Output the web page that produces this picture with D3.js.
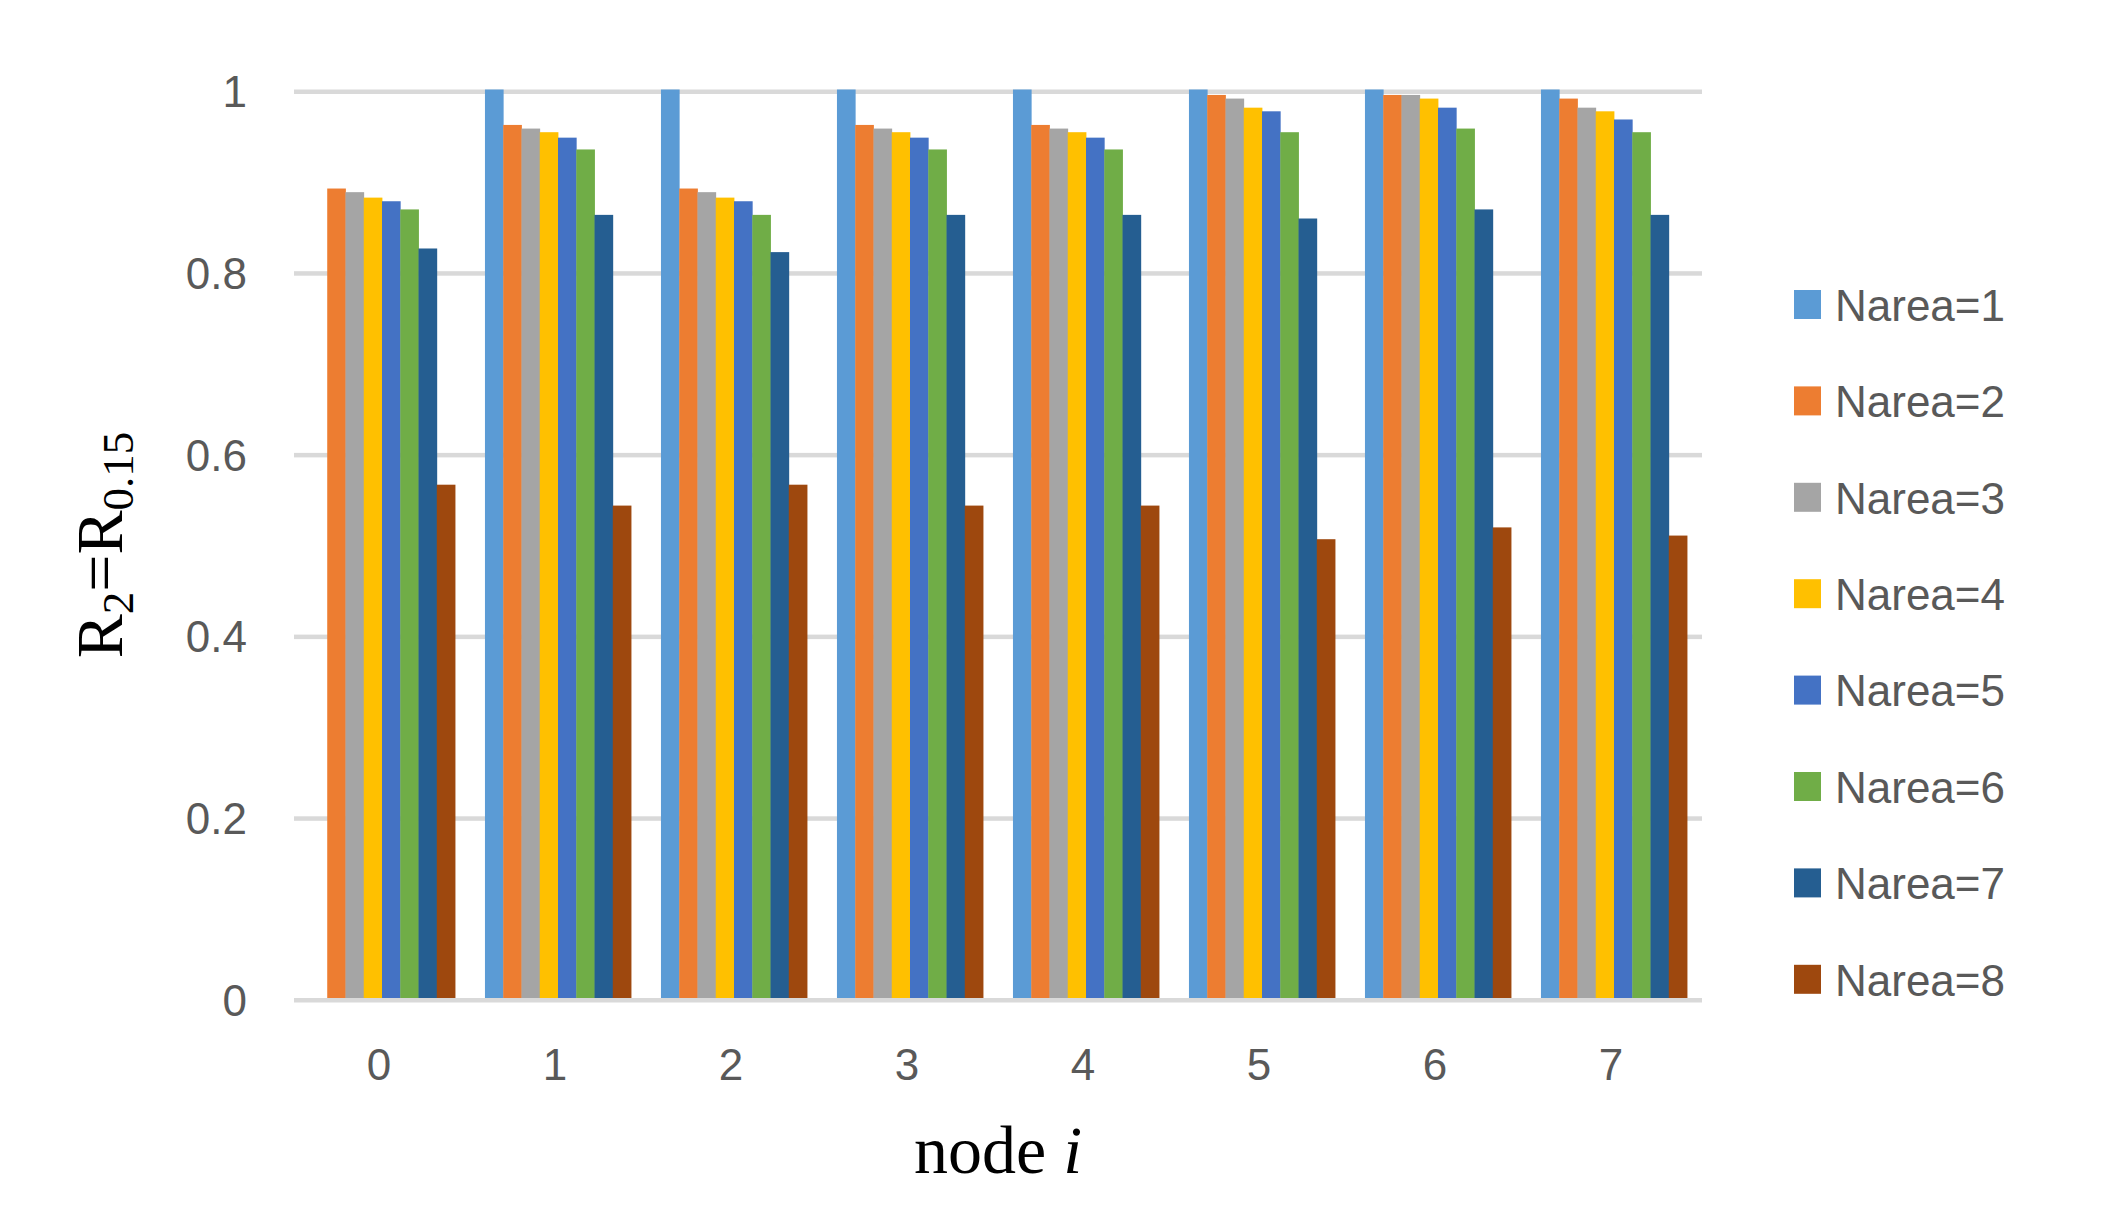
<!DOCTYPE html>
<html>
<head>
<meta charset="utf-8">
<script src="https://cdn.jsdelivr.net/npm/d3@7"></script>
<style>
	body { margin: 0 ; background: #fff ; }
	text { font-family: "Liberation Sans", Arial, sans-serif ; }
</style>
</head>
<body>
<div id="chart"></div>
<script>
var nodes = ['0','1','2','3','4','5','6','7'] ;
var seriesNames = ['Narea=1','Narea=2','Narea=3','Narea=4','Narea=5','Narea=6','Narea=7','Narea=8'] ;
var yTicks = [0,0.2,0.4,0.6,0.8,1] ;
// one array per series, indexed by node
var narea1 = [0,1,1,1,1,1,1,1] ;
var narea2 = [0.891,0.961,0.891,0.961,0.961,0.994,0.994,0.990] ;
var narea3 = [0.887,0.957,0.887,0.957,0.957,0.990,0.994,0.980] ;
var narea4 = [0.881,0.953,0.881,0.953,0.953,0.980,0.990,0.976] ;
var narea5 = [0.877,0.947,0.877,0.947,0.947,0.976,0.980,0.967] ;
var narea6 = [0.868,0.934,0.862,0.934,0.934,0.953,0.957,0.953] ;
var narea7 = [0.825,0.862,0.821,0.862,0.862,0.858,0.868,0.862] ;
var narea8 = [0.565,0.542,0.565,0.542,0.542,0.505,0.518,0.509] ;
var series = [narea1,narea2,narea3,narea4,narea5,narea6,narea7,narea8] ;
var colors = ['#5B9BD5','#ED7D31','#A5A5A5','#FFC000','#4472C4','#70AD47','#255E91','#9E480E'] ;

var width = 2115, height = 1215 ;
// plot area (window.top is read-only, hence the prefix)
var plotLeft = 294, plotRight = 1702, plotTop = 89.5, plotBottom = 998 ;

var svg = d3.select('#chart').append('svg').attr('width',width).attr('height',height) ;

var x = d3.scaleBand().domain(nodes).range([plotLeft,plotRight]).paddingInner(0.17).paddingOuter(0.085) ;
var xs = d3.scaleBand().domain(d3.range(seriesNames.length)).range([0,x.bandwidth()]) ;
var y = d3.scaleLinear().domain([0,1]).range([plotBottom,plotTop]) ;

// gridlines
svg.append('g').selectAll('rect').data(yTicks).join('rect')
	.attr('x',plotLeft).attr('width',plotRight-plotLeft)
	.attr('y',function(d){ return y(d) ; }).attr('height',4.5)
	.attr('fill','#d9d9d9') ;

// bars
var groups = svg.append('g').selectAll('g').data(series).join('g')
	.attr('fill',function(d,i){ return colors[i] ; }) ;
groups.each(function(vals,si) {
	d3.select(this).selectAll('rect').data(vals).join('rect')
		.attr('x',function(d,i){ return x(nodes[i]) + xs(si) ; })
		.attr('width',xs.bandwidth()+0.4)
		.attr('y',function(d){ return y(d) ; })
		.attr('height',function(d){ return plotBottom - y(d) ; }) ;
}) ;

// y tick labels
svg.append('g').selectAll('text').data(yTicks).join('text')
	.attr('x',247).attr('y',function(d){ return y(d) + 2 ; })
	.attr('dy','0.36em').attr('text-anchor','end')
	.attr('fill','#595959').style('font-size','44px')
	.text(function(d){ return d3.format('~g')(d) ; }) ;

// x tick labels
svg.append('g').selectAll('text').data(nodes).join('text')
	.attr('x',function(d){ return x(d) + x.bandwidth()/2 - 3 ; }).attr('y',1080)
	.attr('text-anchor','middle')
	.attr('fill','#595959').style('font-size','44px')
	.text(function(d){ return d ; }) ;

// axis titles
var xt = svg.append('text').attr('x',998).attr('y',1173).attr('text-anchor','middle')
	.style('font-family','"Liberation Serif","Times New Roman",serif').style('font-size','68px').attr('fill','#000') ;
xt.append('tspan').text('node ') ;
xt.append('tspan').style('font-style','italic').text('i') ;

var yt = svg.append('text').attr('transform','translate(122,545) rotate(-90)').attr('text-anchor','middle')
	.style('font-family','"Liberation Serif","Times New Roman",serif').style('font-size','66px').attr('fill','#000') ;
yt.append('tspan').text('R') ;
yt.append('tspan').attr('dy',11).style('font-size','45px').text('2') ;
yt.append('tspan').attr('dy',-11).text('=R') ;
yt.append('tspan').attr('dy',11).style('font-size','45px').text('0.15') ;

// legend
var legend = svg.append('g').selectAll('g').data(seriesNames).join('g')
	.attr('transform',function(d,i){ return 'translate(1794,' + (305 + i*96.4) + ')' ; }) ;
legend.append('rect').attr('x',0).attr('y',-15).attr('width',27).attr('height',29)
	.attr('fill',function(d,i){ return colors[i] ; }) ;
legend.append('text').attr('x',41).attr('y',0).attr('dy','0.36em')
	.attr('fill','#595959').style('font-size','44px')
	.text(function(d){ return d ; }) ;
</script>
</body>
</html>
